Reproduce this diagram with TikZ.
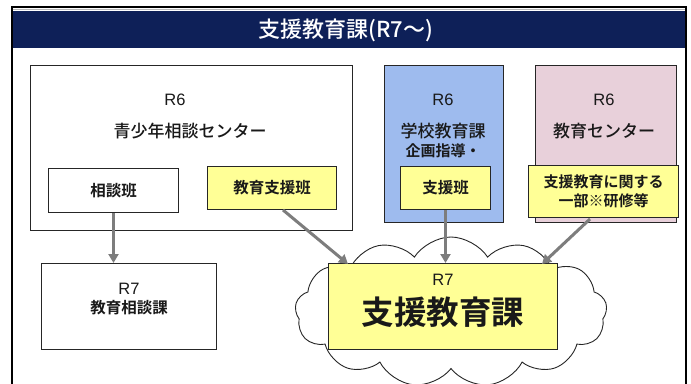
\documentclass[tikz,border=0pt]{standalone}
\usepackage{fontspec}
\setmainfont{Noto Sans CJK JP}[BoldFont={Noto Sans CJK JP Bold}]
\newfontfamily\med{Noto Sans CJK JP Medium}
\newfontfamily\arial{Liberation Sans}
\usetikzlibrary{shapes.symbols,arrows.meta}
\definecolor{navy}{RGB}{14,32,88}
\definecolor{bluebox}{RGB}{158,187,238}
\definecolor{pinkbox}{RGB}{232,208,218}
\definecolor{yel}{RGB}{255,255,150}
\definecolor{arr}{RGB}{125,125,125}
\tikzset{
  box/.style={draw=black!85, line width=1pt, anchor=north west, inner sep=0pt},
  lbl/.style={inner sep=0pt, text=black!90},
  rlbl/.style={lbl, font=\arial\fontsize{16.5}{18}\selectfont},
  mlbl/.style={lbl, font=\med\fontsize{17}{18}\selectfont},
  slbl/.style={lbl, font=\bfseries\fontsize{15.5}{17}\selectfont},
  conn/.style={draw=arr, line width=3pt, -{Triangle[length=9pt,width=10pt]}},
}
\begin{document}
\begin{tikzpicture}[x=1pt,y=-1pt]
\useasboundingbox (0,0) rectangle (691,383);
\fill[white] (0,0) rectangle (691,383);
\begin{scope}
\clip (0,0) rectangle (691,383);
% frame and header
\draw[black, line width=1.2pt] (12,7) rectangle (686,400);
\fill[navy] (12.6,11) rectangle (685.4,48);
\draw[gray!55, line width=1pt] (12.6,9.5) -- (685.4,9.5);
\node[text=white, font=\med\fontsize{22}{24}\selectfont] (title) at (346,30) {支援教育課(R7～)};

% R6 boxes
\node[box, fill=white, minimum width=322pt, minimum height=165pt] (b1) at (30,65) {};
\node[box, fill=bluebox, minimum width=119pt, minimum height=157pt] (b2) at (384,65) {};
\node[box, fill=pinkbox, minimum width=141pt, minimum height=157pt] (b3) at (535,65) {};

\node[rlbl] (b1r) at (175,100) {R6};
\node[mlbl] (b1t) at (190,131) {青少年相談センター};
\node[rlbl] (b2r) at (443,100) {R6};
\node[mlbl] (b2t) at (443,131) {学校教育課};
\node[lbl, font=\bfseries\fontsize{15}{16}\selectfont] (b2u) at (443,151) {企画指導・};
\node[rlbl] (b3r) at (604,100) {R6};
\node[mlbl] (b3t) at (604,131) {教育センター};

% sub boxes
\node[box, fill=white, minimum width=130pt, minimum height=44pt] (soudan) at (48,168) {};
\node[slbl] at (soudan.center) {相談班};
\node[box, fill=yel, minimum width=129pt, minimum height=43pt] (kyoiku) at (207,166) {};
\node[slbl] at (kyoiku.center) {教育支援班};
\node[box, fill=yel, minimum width=90pt, minimum height=43pt] (shien) at (400,166) {};
\node[slbl] at (shien.center) {支援班};
\node[box, fill=yel, minimum width=150pt, minimum height=52pt] (kenshu) at (528,165) {};
\node[lbl, font=\bfseries\fontsize{15}{19}\selectfont, align=center] at (kenshu.center) {支援教育に関する\\一部※研修等};

% R7 box
\node[box, fill=white, minimum width=175pt, minimum height=86pt] (r7b) at (41,263) {};
\node[rlbl] (r7br) at (r7b.center |- 0,289) {R7};
\node[slbl] (r7bt) at (r7b.center |- 0,308) {教育相談課};

% cloud
\node[cloud, cloud puffs=13, cloud puff arc=115, aspect=2.0, draw=black!85, line width=0.9pt, fill=white,
      minimum width=312pt, minimum height=150pt, inner sep=0pt] (cloud) at (451,312) {};
\node[box, fill=yel, minimum width=229pt, minimum height=86pt] (big) at (328,263) {};
\node[rlbl] (bigr) at (443,280) {R7};
\node[lbl, font=\bfseries\fontsize{32.5}{35}\selectfont] (bigt) at (443,312) {支援教育課};

% connectors
\coordinate (s2) at (283,210);
\coordinate (e2) at (348,264);
\coordinate (s4) at (590,219);
\coordinate (e4) at (542,264);
\draw[conn] (soudan.south) -- (soudan.south |- r7b.north);
\draw[conn] (s2) -- (e2);
\draw[conn] (shien.south) -- (shien.south |- big.north);
\draw[conn] (s4) -- (e4);
\end{scope}
\end{tikzpicture}
\end{document}
